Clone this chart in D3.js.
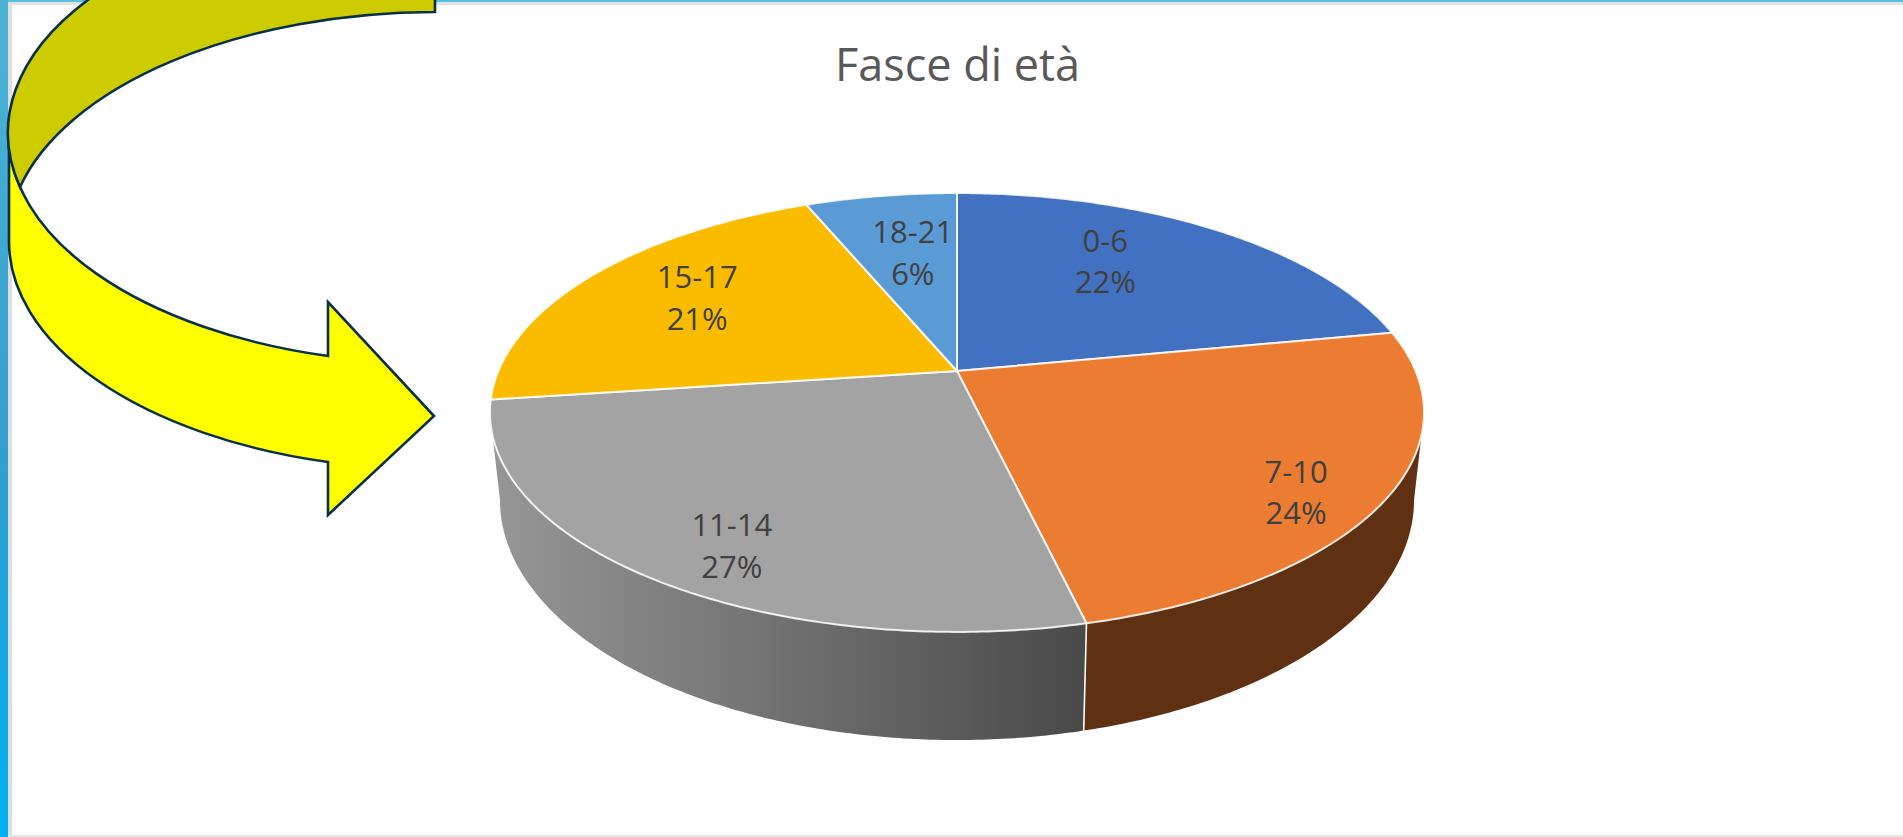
<!DOCTYPE html>
<html lang="it">
<head>
<meta charset="UTF-8">
<title>Fasce di età</title>
<script src="https://cdn.jsdelivr.net/npm/d3@7"></script>
<style>
    html, body { margin: 0; padding: 0; background: #fff; }
    svg { display: block; }
    .title { font: 45px "Open Sans", sans-serif; fill: #595959; text-anchor: middle; }
    .label { font: 31px "Open Sans", sans-serif; fill: #404040; text-anchor: middle; }
    .arrow { stroke: #0a3049; stroke-width: 2.6; stroke-linejoin: miter; }
</style>
</head>
<body>
<div id="chart"></div>
<script>
    const categories = ["0-6", "7-10", "11-14", "15-17", "18-21"];
    const values = [22, 24.3, 26.6, 20.8, 6.3];
    const topColors = ["#4371c2", "#eb7c31", "#a3a3a3", "#fbbc00", "#5b9bd5"];

    const width = 1903, height = 837;

    const svg = d3.select("#chart").append("svg")
        .attr("width", width)
        .attr("height", height);

    const defs = svg.append("defs");

    const frameGrad = defs.append("linearGradient")
        .attr("id", "frame-grad").attr("x1", 0).attr("y1", 0).attr("x2", 0).attr("y2", 1);
    frameGrad.append("stop").attr("offset", 0).attr("stop-color", "#4db4d6");
    frameGrad.append("stop").attr("offset", 0.5).attr("stop-color", "#379fcc");
    frameGrad.append("stop").attr("offset", 1).attr("stop-color", "#00b0f0");

    const wallGrad = defs.append("linearGradient")
        .attr("id", "wall-grad").attr("gradientUnits", "userSpaceOnUse")
        .attr("x1", 495).attr("y1", 0).attr("x2", 1087).attr("y2", 0);
    wallGrad.append("stop").attr("offset", 0).attr("stop-color", "#969696");
    wallGrad.append("stop").attr("offset", 1).attr("stop-color", "#494949");

    // slide frame
    svg.append("rect").attr("x", 0).attr("y", 0).attr("width", width).attr("height", 2).attr("fill", "#55c4e4");
    svg.append("rect").attr("x", 0).attr("y", 2).attr("width", width).attr("height", 3).attr("fill", "#e2e2e2");
    svg.append("rect").attr("x", 0).attr("y", 0).attr("width", 8).attr("height", height).attr("fill", "url(#frame-grad)");
    svg.append("rect").attr("x", 8).attr("y", 5).attr("width", 4).attr("height", height).attr("fill", "#dedede");
    svg.append("rect").attr("x", 8).attr("y", 835).attr("width", width).attr("height", 2).attr("fill", "#e6e6e6");

    // pie in perspective: same homography for the top and the bottom disc
    const persp = 0.189;
    const topDisc = { cx: 957, cy: 371, a: 458.6, b: 211.6 };
    const bottomDisc = { cx: 957, cy: 454.7, a: 448.8, b: 231.4 };

    function project(disc, angle, r) {
        const w = 1 + persp * r * Math.cos(angle);
        return [
            disc.cx + disc.a * r * Math.sin(angle) / w,
            disc.cy - disc.b * r * Math.cos(angle) / w
        ];
    }

    const pie = d3.pie().sort(null).value(d => d);
    const slices = pie(values);
    const line = d3.line();

    function rim(disc, a0, a1) {
        const n = Math.max(2, Math.ceil(Math.abs(a1 - a0) / 0.01));
        return d3.range(n + 1).map(i => project(disc, a0 + (a1 - a0) * i / n, 1));
    }

    // side wall is only visible between the two silhouette angles
    const wallStart = Math.acos(-persp);
    const wallEnd = 2 * Math.PI - wallStart;
    const wallFill = ["none", "#5f3112", "url(#wall-grad)", "none", "none"];

    svg.append("g").selectAll("path")
        .data(slices.filter(d => d.startAngle < wallEnd && d.endAngle > wallStart))
        .join("path")
        .attr("d", d => {
            const a0 = Math.max(d.startAngle, wallStart);
            const a1 = Math.min(d.endAngle, wallEnd);
            return line(rim(topDisc, a0, a1).concat(rim(bottomDisc, a1, a0))) + "Z";
        })
        .attr("fill", d => wallFill[d.index]);

    // white seam between the two walls
    const seam = slices[1].endAngle;
    svg.append("path")
        .attr("d", line([project(topDisc, seam, 1), project(bottomDisc, seam, 1)]))
        .attr("stroke", "#fff").attr("stroke-width", 1.6).attr("fill", "none");

    svg.append("g").selectAll("path")
        .data(slices)
        .join("path")
        .attr("d", d => line([project(topDisc, 0, 0)].concat(rim(topDisc, d.startAngle, d.endAngle))) + "Z")
        .attr("fill", (d, i) => topColors[i])
        .attr("stroke", "#fff")
        .attr("stroke-opacity", 0.85)
        .attr("stroke-width", 2)
        .attr("stroke-linejoin", "round");

    svg.append("text").attr("class", "title")
        .attr("x", 957.5).attr("y", 81)
        .text("Fasce di età");

    // excel moved the labels by hand, so each one gets a nudge from its mid angle
    const labelNudge = [[-13, -19.5], [93, 48], [-53, 60], [-34, -13], [4.5, -5.5]];
    const pct = d3.format(".0f");

    const labels = svg.append("g").selectAll("g")
        .data(slices)
        .join("g")
        .attr("transform", (d, i) => {
            const p = project(topDisc, (d.startAngle + d.endAngle) / 2, 0.6);
            return `translate(${p[0] + labelNudge[i][0]}, ${p[1] + labelNudge[i][1]})`;
        });
    labels.append("text").attr("class", "label").attr("y", -10)
        .text((d, i) => categories[i]);
    labels.append("text").attr("class", "label").attr("y", 31.5)
        .text(d => pct(d.value) + "%");

    // curved arrow drawn on the slide, over the frame: both bands are elliptical arcs
    svg.append("path").attr("class", "arrow")
        .attr("fill", "#ffff00")
        .attr("d", "M9,133A426,228 0 0 0 328,356L328,302L434,416L328,515L328,462A426,228 0 0 1 9,240Z");

    svg.append("path").attr("class", "arrow")
        .attr("fill", "#cccc00")
        .attr("d", "M20,187A426,228 0 0 1 435,-95L435,12A430,230 0 0 0 20,187Z");
</script>
</body>
</html>
